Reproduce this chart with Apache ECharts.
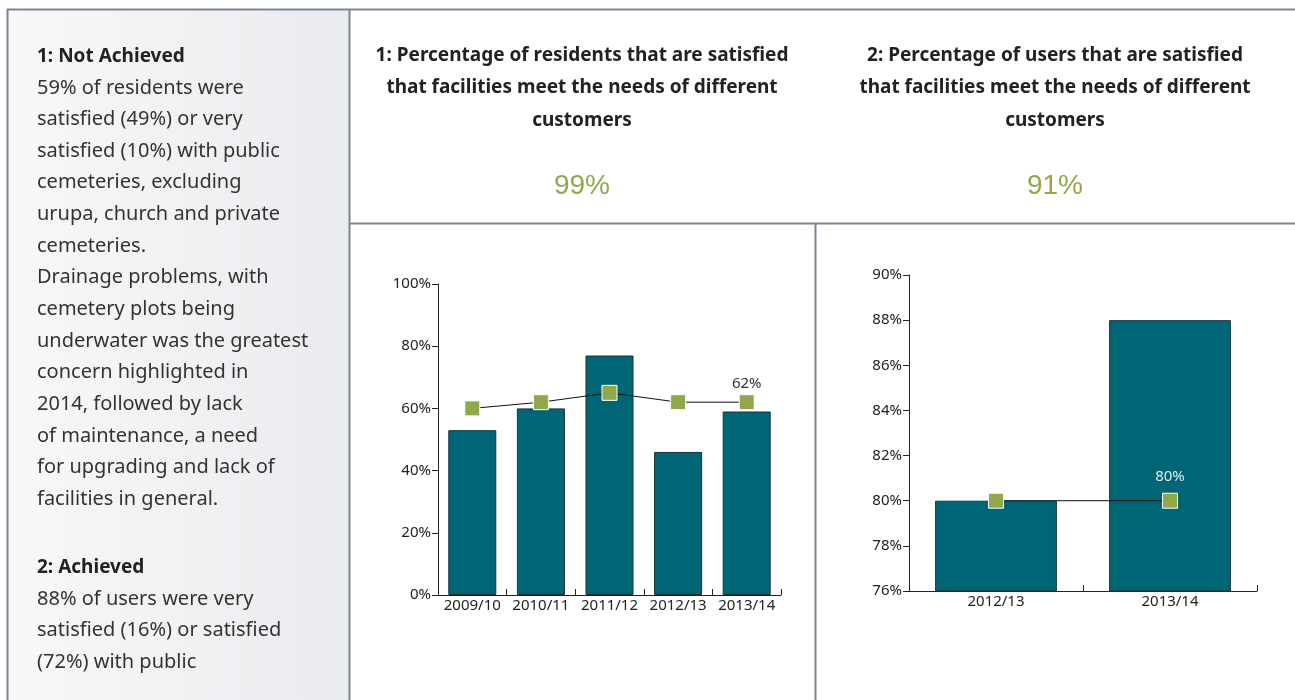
<!DOCTYPE html>
<html>
<head>
<meta charset="utf-8">
<style>
  html, body { margin: 0; padding: 0; background: #ffffff; }
  #chart { width: 1295px; height: 700px; }
</style>
<script src="https://cdn.jsdelivr.net/npm/echarts@6/dist/echarts.min.js"></script>
</head>
<body>
<div id="chart"></div>
<script>
// Measure 1: residents satisfied with public cemeteries
const residentYears = ['2009/10', '2010/11', '2011/12', '2012/13', '2013/14'];
const residentResults = [53, 60, 77, 46, 59];
const residentTargets = [60, 62, 65, 62, 62];
const residentTicks = [0, 20, 40, 60, 80, 100];

// Measure 2: users satisfied with public cemeteries
const userYears = ['2012/13', '2013/14'];
const userResults = [80, 88];
const userTargets = [80, 80];
const userTicks = [76, 78, 80, 82, 84, 86, 88, 90];

const headline1 = '99%';
const headline2 = '91%';
const title1 = '1: Percentage of residents that are satisfied\nthat facilities meet the needs of different\ncustomers';
const title2 = '2: Percentage of users that are satisfied\nthat facilities meet the needs of different\ncustomers';

const note1Head = '1: Not Achieved';
const note1Lines = [
  '59% of residents were',
  'satisfied (49%) or very',
  'satisfied (10%) with public',
  'cemeteries, excluding',
  'urupa, church and private',
  'cemeteries.',
  'Drainage problems, with',
  'cemetery plots being',
  'underwater was the greatest',
  'concern highlighted in',
  '2014, followed by lack',
  'of maintenance, a need',
  'for upgrading and lack of',
  'facilities in general.'
];
const note2Head = '2: Achieved';
const note2Lines = [
  '88% of users were very',
  'satisfied (16%) or satisfied',
  '(72%) with public'
];

const FONT = '"Noto Sans", "Open Sans", sans-serif';
const TEAL = '#006675';
const GREEN = '#8fa84a';
const RULE = '#7b8595';

const chart = echarts.init(document.getElementById('chart'), null, { renderer: 'canvas' });

function yAxisFor(ticks, gridIndex) {
  return {
    type: 'value',
    gridIndex: gridIndex,
    min: ticks[0],
    max: ticks[ticks.length - 1],
    interval: ticks[1] - ticks[0],
    splitLine: { show: false },
    axisLine: { show: true, lineStyle: { color: '#222', width: 1 } },
    axisTick: { show: true, length: 6, lineStyle: { color: '#222' } },
    axisLabel: { formatter: '{value}%', color: '#222', fontSize: 15, fontFamily: FONT, margin: 7 }
  };
}

function xAxisFor(cats, gridIndex) {
  return {
    type: 'category',
    gridIndex: gridIndex,
    data: cats,
    axisLine: { show: true, lineStyle: { color: '#222', width: 1 } },
    axisTick: { show: true, inside: true, length: 6, lineStyle: { color: '#222' } },
    axisLabel: { interval: 0, color: '#222', fontSize: 15, fontFamily: FONT, margin: 3 }
  };
}

function barSeries(values, idx) {
  return {
    type: 'bar',
    xAxisIndex: idx, yAxisIndex: idx,
    data: values,
    barWidth: '70%',
    itemStyle: { color: TEAL, borderColor: '#1d3236', borderWidth: 1 },
    silent: true, z: 2
  };
}

function lineSeries(values, idx, labelColor, labelOffset) {
  const last = values.length - 1;
  return {
    type: 'line',
    xAxisIndex: idx, yAxisIndex: idx,
    data: values.map((v, i) => i === last
      ? { value: v, label: { show: true, position: 'top', distance: labelOffset, formatter: '{c}%', color: labelColor, fontSize: 15, fontFamily: FONT } }
      : v),
    symbol: 'rect',
    symbolSize: 15,
    lineStyle: { color: '#111', width: 1 },
    itemStyle: { color: GREEN, borderColor: '#ffffff', borderWidth: 1 },
    label: { show: false },
    silent: true, z: 3
  };
}

const graphics = [
  // left notes panel
  {
    type: 'rect', shape: { x: 7, y: 9, width: 342, height: 700 }, z: 0,
    style: { fill: new echarts.graphic.LinearGradient(0, 0, 1, 0, [
      { offset: 0, color: '#f8f8fa' }, { offset: 1, color: '#eaebee' }]) }
  },
  // panel rules
  { type: 'line', shape: { x1: 7, y1: 9.5, x2: 1295, y2: 9.5 }, style: { stroke: RULE, lineWidth: 2 }, z: 1 },
  { type: 'line', shape: { x1: 7.5, y1: 9, x2: 7.5, y2: 700 }, style: { stroke: RULE, lineWidth: 2 }, z: 1 },
  { type: 'line', shape: { x1: 349.5, y1: 9, x2: 349.5, y2: 700 }, style: { stroke: RULE, lineWidth: 2 }, z: 1 },
  { type: 'line', shape: { x1: 349, y1: 223.5, x2: 1295, y2: 223.5 }, style: { stroke: RULE, lineWidth: 2 }, z: 1 },
  { type: 'line', shape: { x1: 815.5, y1: 223, x2: 815.5, y2: 700 }, style: { stroke: RULE, lineWidth: 2 }, z: 1 },
  // notes text
  { type: 'text', left: 37, top: 47, z: 2,
    style: { text: note1Head, fill: '#222', font: 'bold 19px ' + FONT } },
  { type: 'text', left: 37, top: 72, z: 2,
    style: { text: note1Lines.join('\n'), fill: '#333', font: '20px ' + FONT, lineHeight: 31.65 } },
  { type: 'text', left: 37, top: 558, z: 2,
    style: { text: note2Head, fill: '#222', font: 'bold 19px ' + FONT } },
  { type: 'text', left: 37, top: 583, z: 2,
    style: { text: note2Lines.join('\n'), fill: '#333', font: '20px ' + FONT, lineHeight: 31.65 } }
];

const titleStyle = { fontFamily: FONT, fontSize: 19, fontWeight: 'bold', color: '#222', lineHeight: 32.5, align: 'center' };
const headStyle = { fontFamily: '"Liberation Sans", Arial, sans-serif', fontSize: 28, fontWeight: 'normal', color: GREEN };

const option = {
  animation: false,
  backgroundColor: '#ffffff',
  title: [
    { text: title1, left: 582, top: 39, textAlign: 'center', padding: 0, textStyle: titleStyle },
    { text: headline1, left: 582, top: 172, textAlign: 'center', padding: 0, textStyle: headStyle },
    { text: title2, left: 1055, top: 39, textAlign: 'center', padding: 0, textStyle: titleStyle },
    { text: headline2, left: 1055, top: 172, textAlign: 'center', padding: 0, textStyle: headStyle }
  ],
  grid: [
    { left: 438, top: 284, width: 343, height: 311, containLabel: false },
    { left: 909, top: 275, width: 348, height: 316, containLabel: false }
  ],
  xAxis: [xAxisFor(residentYears, 0), xAxisFor(userYears, 1)],
  yAxis: [yAxisFor(residentTicks, 0), yAxisFor(userTicks, 1)],
  series: [
    barSeries(residentResults, 0),
    lineSeries(residentTargets, 0, '#333', 3),
    barSeries(userResults, 1),
    lineSeries(userTargets, 1, '#dfe9eb', 8)
  ],
  graphic: graphics
};

chart.setOption(option);
</script>
</body>
</html>
